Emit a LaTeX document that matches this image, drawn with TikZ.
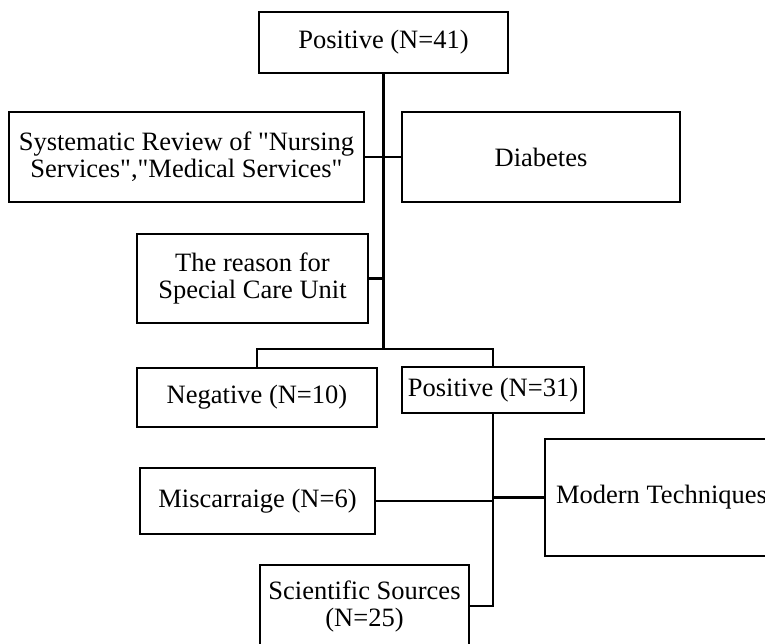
\documentclass[tikz,border=0pt]{standalone}
\usepackage{fontspec}
\setmainfont{Liberation Serif}[Ligatures=TeXOff]
\usepackage{tikz}
\usetikzlibrary{shapes}
\tikzstyle{caja}=[rectangle,draw=black,line width=1.1pt,inner sep=0pt,outer sep=0pt,align=center,font=\fontsize{13.25}{13.5}\selectfont]
\tikzstyle{linea}=[draw=black,line width=1.1pt]

\begin{document}
\begin{tikzpicture}[x=0.5pt,y=-0.5pt]
\useasboundingbox (0,0) rectangle (765,643);
\clip (0,0) rectangle (765,643);
\node[caja,minimum width=124.5pt,minimum height=30.5pt] (p41) at (383.5,42.5) {Positive (N=41)};
\node[caja,minimum width=177.5pt,minimum height=45pt] (rev) at (186.5,157) {Systematic Review of "Nursing\\Services","Medical Services"};
\node[caja,minimum width=139pt,minimum height=45pt] (dia) at (541,157) {Diabetes};
\node[caja,minimum width=115.5pt,minimum height=44.5pt] (raz) at (252.5,278.5) {The reason for\\Special Care Unit};
\node[caja,minimum width=120pt,minimum height=29.5pt] (neg) at (257,397.5) {Negative (N=10)};
\node[caja,minimum width=91pt,minimum height=23pt] (p31) at (493,390) {Positive (N=31)};
\node[caja,minimum width=117.5pt,minimum height=33pt] (mis) at (257.5,501) {Miscarraige (N=6)};
\node[caja,minimum width=116.5pt,minimum height=58.5pt] (mod) at (661.5,497.5) {Modern Techniques};
\node[caja,minimum width=104.5pt,minimum height=41pt] (sci) at (364.5,606) {Scientific Sources\\(N=25)};
\coordinate (bus) at (383.5,349);
\draw[linea] (p41.south) -- (bus);
\draw[linea] (rev.east) -- (dia.west);
\draw[linea] (raz.east) -- (raz.east -| p41.south);
\draw[linea] (neg.north) |- (bus) -| (p31.north);
\draw[linea] (p31.south) |- (sci.east);
\draw[linea] (mis.east) -- (mis.east -| p31.south);
\draw[linea] (mod.west) -- (mod.west -| p31.south);
\end{tikzpicture}
\end{document}
